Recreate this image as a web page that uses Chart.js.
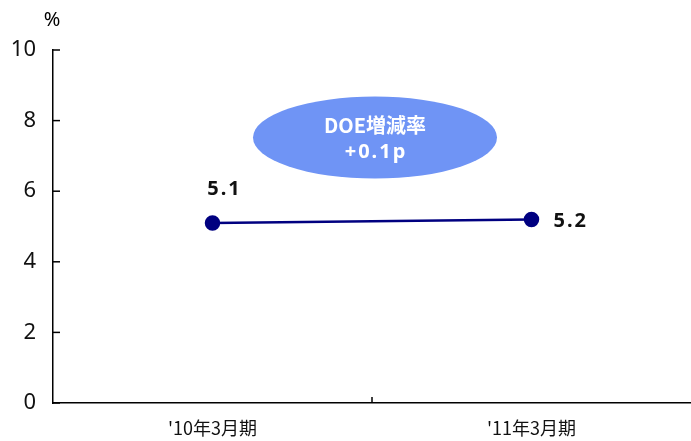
<!DOCTYPE html>
<html>
<head>
<meta charset="utf-8">
<script src="https://cdn.jsdelivr.net/npm/chart.js@4/dist/chart.umd.min.js"></script>
<style>
  html, body { margin: 0; padding: 0; background: #fff; overflow: hidden; }
  #wrap { width: 691px; height: 441px; position: relative; }
</style>
</head>
<body>
<div id="wrap"><canvas id="doeChart"></canvas></div>
<script>
    const periods = ["'10年3月期", "'11年3月期"];
    const doeValues = [5.1, 5.2];
    const yTicks = [0, 2, 4, 6, 8, 10];
    const badgeLines = ['DOE増減率', '+0.1p'];

    const FONT = '"Noto Sans CJK JP", "Noto Sans", sans-serif';
    const LATIN = '"Noto Sans", "Open Sans", sans-serif';

    // inward tick marks, "%" unit, value labels and the change badge
    const decorations = {
        id: 'decorations',
        afterDraw(chart) {
            const { ctx, scales: { x, y }, chartArea } = chart;
            ctx.save();
            ctx.strokeStyle = '#000';
            ctx.lineWidth = 1.5;
            yTicks.forEach(v => {
                const py = y.getPixelForValue(v);
                ctx.beginPath();
                ctx.moveTo(chartArea.left, py);
                ctx.lineTo(chartArea.left + 7, py);
                ctx.stroke();
            });
            const midX = (x.getPixelForValue(0) + x.getPixelForValue(1)) / 2;
            ctx.beginPath();
            ctx.moveTo(midX, chartArea.bottom);
            ctx.lineTo(midX, chartArea.bottom - 6);
            ctx.stroke();

            ctx.fillStyle = '#000';
            ctx.font = '20px ' + LATIN;
            ctx.textAlign = 'center';
            ctx.textBaseline = 'middle';
            ctx.fillText('%', 52, 20);

            // value labels
            ctx.font = 'bold 20px ' + LATIN;
            ctx.fillStyle = '#111';
            ctx.letterSpacing = '2px';
            const p0 = chart.getDatasetMeta(0).data[0];
            const p1 = chart.getDatasetMeta(0).data[1];
            ctx.textAlign = 'center';
            ctx.fillText(doeValues[0].toFixed(1), p0.x + 12, p0.y - 34);
            ctx.textAlign = 'left';
            ctx.fillText(doeValues[1].toFixed(1), p1.x + 22, p1.y + 2);

            // badge
            const cy = y.getPixelForValue(7.52);
            const bx = midX + 3;
            ctx.fillStyle = '#6f94f5';
            ctx.beginPath();
            ctx.ellipse(bx, cy, 122, 41, 0, 0, Math.PI * 2);
            ctx.fill();
            ctx.fillStyle = '#fff';
            ctx.letterSpacing = '0px';
            ctx.font = 'bold 20px ' + FONT;
            ctx.textAlign = 'center';
            ctx.fillText(badgeLines[0], bx, cy - 12);
            ctx.letterSpacing = '2px';
            ctx.font = 'bold 20px ' + LATIN;
            ctx.fillText(badgeLines[1], bx + 1, cy + 15);
            ctx.restore();
        }
    };

    new Chart(document.getElementById('doeChart'), {
        type: 'line',
        data: {
            labels: periods,
            datasets: [{
                data: doeValues,
                borderColor: '#000080',
                backgroundColor: '#000080',
                borderWidth: 2.5,
                pointRadius: 6.5,
                pointHoverRadius: 6.5,
                tension: 0
            }]
        },
        options: {
            responsive: true, maintainAspectRatio: false,
            animation: false,
            layout: { autoPadding: false, padding: { top: 50, right: 0, left: 0, bottom: 0 } },
            plugins: { legend: { display: false }, tooltip: { enabled: false } },
            scales: {
                x: {
                    offset: true,
                    grid: { display: false, drawTicks: false },
                    border: { display: true, color: '#000', width: 1.5 },
                    ticks: { color: '#111', font: { size: 18, family: FONT }, padding: 14, maxRotation: 0 },
                    afterFit(scale) {
                        scale.height = 38;
                        scale.paddingLeft = 0;
                        scale.paddingRight = 0;
                    }
                },
                y: {
                    min: 0, max: 10,
                    afterBuildTicks(scale) { scale.ticks = yTicks.map(v => ({ value: v })); },
                    grid: { display: false, drawTicks: false },
                    border: { display: true, color: '#000', width: 1.5 },
                    ticks: { color: '#111', font: { size: 22, family: LATIN }, padding: 17 },
                    afterFit(scale) { scale.width = 53; }
                }
            }
        },
        plugins: [decorations]
    });
</script>
</body>
</html>
